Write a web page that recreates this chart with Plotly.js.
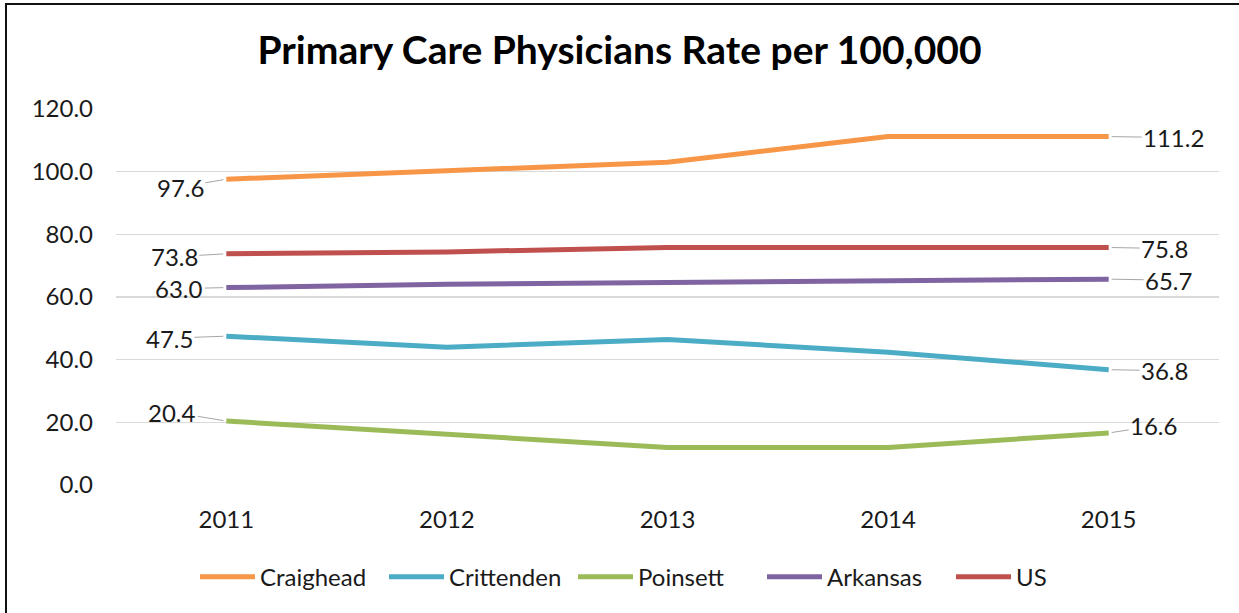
<!DOCTYPE html>
<html>
<head>
<meta charset="utf-8">
<script src="https://cdn.plot.ly/plotly-3.0.1.min.js"></script>
<style>
  html, body { margin: 0; padding: 0; background: #fff; }
  #frame { position: absolute; left: 5px; top: 3px; width: 1234px; height: 610px;
           border-left: 2px solid #111; border-top: 2px solid #111; box-sizing: border-box;
           pointer-events: none; }
  #chart { position: absolute; left: 0; top: 0; width: 1239px; height: 613px; }
</style>
</head>
<body>
<div id="chart"></div>
<div id="frame"></div>
<script>
// ---- data ----
const years = ["2011", "2012", "2013", "2014", "2015"];
const craighead  = [97.6, 100.4, 103.0, 111.2, 111.2];
const crittenden = [47.5, 44.0, 46.4, 42.4, 36.8];
const poinsett   = [20.4, 16.3, 12.0, 12.0, 16.6];
const arkansas   = [63.0, 64.1, 64.6, 65.1, 65.7];
const us         = [73.8, 74.4, 75.8, 75.8, 75.8];
const seriesNames = ["Craighead", "Crittenden", "Poinsett", "Arkansas", "US"];
const yTicks = [0, 20, 40, 60, 80, 100, 120];

// ---- style ----
const colors = ["#F79646", "#4BACC6", "#9BBB59", "#8064A2", "#C0504D"];
const seriesData = [craighead, crittenden, poinsett, arkansas, us];
const FONT = "Lato, 'Noto Sans', sans-serif";
const TXT = "#1a1a1a";

// label offsets (pixels) for first / last point labels
const firstOff = [[-46, 8], [-57, 2], [-54, -9], [-47, 1], [-52, 3]];
const lastOff  = [[65, 1], [56, 1], [45, -7], [60, 1], [56, 1]];

const traces = seriesNames.map((n, i) => ({
  type: "scatter", mode: "lines", name: n,
  x: years, y: seriesData[i],
  line: { color: colors[i], width: 5 },
  hoverinfo: "skip"
}));

const annotations = [];
seriesData.forEach((arr, i) => {
  const last = arr.length - 1;
  [[0, firstOff[i]], [last, lastOff[i]]].forEach(([k, off]) => {
    annotations.push({
      x: k, y: arr[k], xref: "x", yref: "y",
      text: arr[k].toFixed(1),
      showarrow: true, arrowhead: 0, arrowwidth: 1, arrowcolor: "#a6a6a6",
      ax: off[0], ay: off[1], standoff: 3,
      font: { family: FONT, size: 24, color: TXT }
    });
  });
});

const layout = {
  width: 1239, height: 613,
  paper_bgcolor: "#ffffff", plot_bgcolor: "#ffffff",
  margin: { l: 116, r: 20, t: 109, b: 128 },
  title: { text: "<b>Primary Care Physicians Rate per 100,000</b>",
           font: { family: FONT, size: 39, color: "#000" },
           x: 0.5, xanchor: "center", y: 0.918, yanchor: "middle" },
  xaxis: { type: "category", range: [-0.5, 4.5], showgrid: false, zeroline: false,
           showline: false, ticks: "", ticklabelstandoff: 18,
           tickfont: { family: FONT, size: 24, color: TXT }, fixedrange: true },
  yaxis: { range: [0, 120], tickvals: yTicks, ticktext: yTicks.map(v => v.toFixed(1)),
           showgrid: true, gridcolor: "#d9d9d9", gridwidth: 1.3, zeroline: false,
           showline: false, ticks: "", ticklabelstandoff: 22,
           tickfont: { family: FONT, size: 24, color: TXT }, fixedrange: true },
  showlegend: true,
  legend: { orientation: "h", x: 0.5, xanchor: "center", y: -0.245, yanchor: "middle",
            font: { family: FONT, size: 24, color: TXT }, itemwidth: 55,
            entrywidth: 119, entrywidthmode: "pixels",
            traceorder: "normal" },
  annotations: annotations
};

Plotly.newPlot("chart", traces, layout, { displayModeBar: false, staticPlot: true });
</script>
</body>
</html>
